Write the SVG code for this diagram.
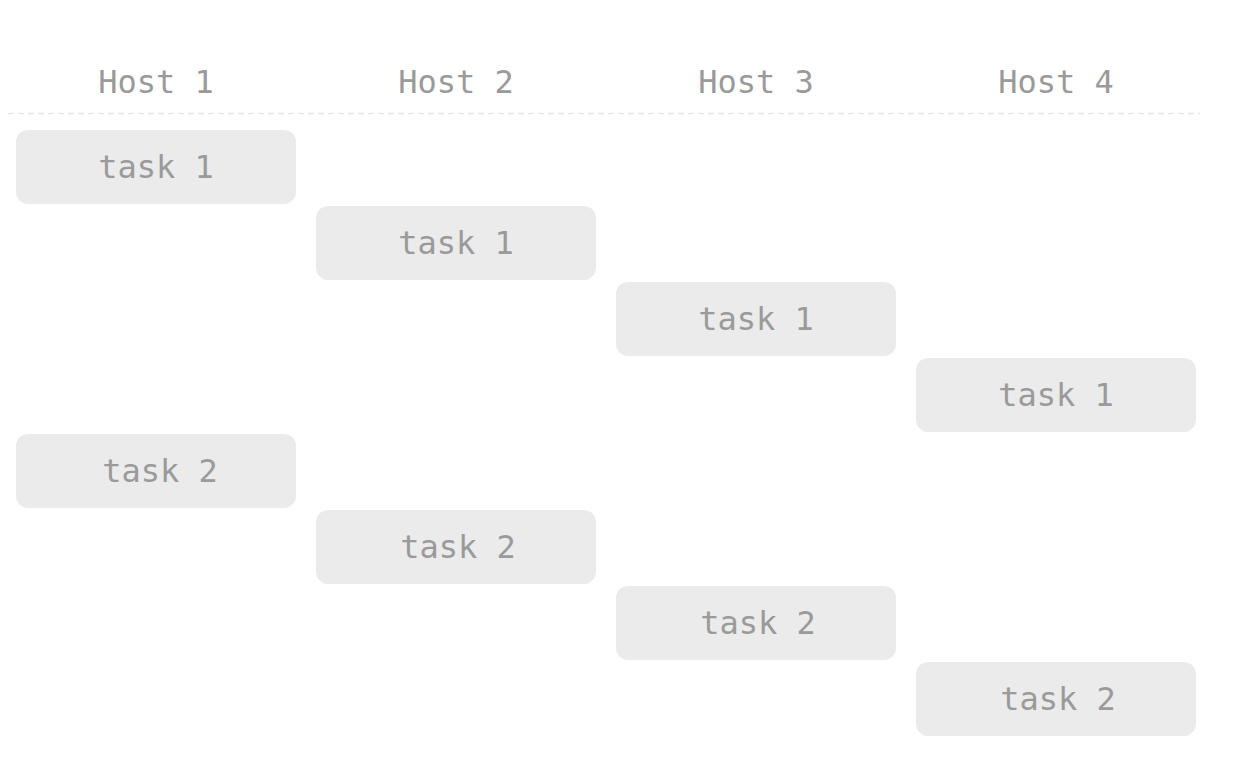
<svg xmlns="http://www.w3.org/2000/svg" width="1256" height="766" viewBox="0 0 1256 766">
<style>
.t{font-family:"DejaVu Sans Mono","Liberation Mono",monospace;font-size:32px;fill:#9a9a9a;text-anchor:middle}
.b{fill:#ebebeb}
</style>
<rect width="1256" height="766" fill="#fff"/>
<g id="headers">
<text class="t" x="156" y="93">Host 1</text>
<text class="t" x="456" y="93">Host 2</text>
<text class="t" x="756" y="93">Host 3</text>
<text class="t" x="1056" y="93">Host 4</text>
</g>
<g id="connectors">
<line x1="8" y1="113.5" x2="1200" y2="113.5" stroke="#e6e6e6" stroke-width="1.5" stroke-dasharray="6 4"/>
</g>
<g id="h1t1"><rect class="b" x="16" y="130" width="280" height="74" rx="12"/><text class="t" x="156" y="178">task 1</text></g>
<g id="h2t1"><rect class="b" x="316" y="206" width="280" height="74" rx="12"/><text class="t" x="456" y="254">task 1</text></g>
<g id="h3t1"><rect class="b" x="616" y="282" width="280" height="74" rx="12"/><text class="t" x="756" y="330">task 1</text></g>
<g id="h4t1"><rect class="b" x="916" y="358" width="280" height="74" rx="12"/><text class="t" x="1056" y="406">task 1</text></g>
<g id="h1t2"><rect class="b" x="16" y="434" width="280" height="74" rx="12"/><text class="t" x="160" y="482">task 2</text></g>
<g id="h2t2"><rect class="b" x="316" y="510" width="280" height="74" rx="12"/><text class="t" x="458" y="558">task 2</text></g>
<g id="h3t2"><rect class="b" x="616" y="586" width="280" height="74" rx="12"/><text class="t" x="758" y="634">task 2</text></g>
<g id="h4t2"><rect class="b" x="916" y="662" width="280" height="74" rx="12"/><text class="t" x="1058" y="710">task 2</text></g>
</svg>
